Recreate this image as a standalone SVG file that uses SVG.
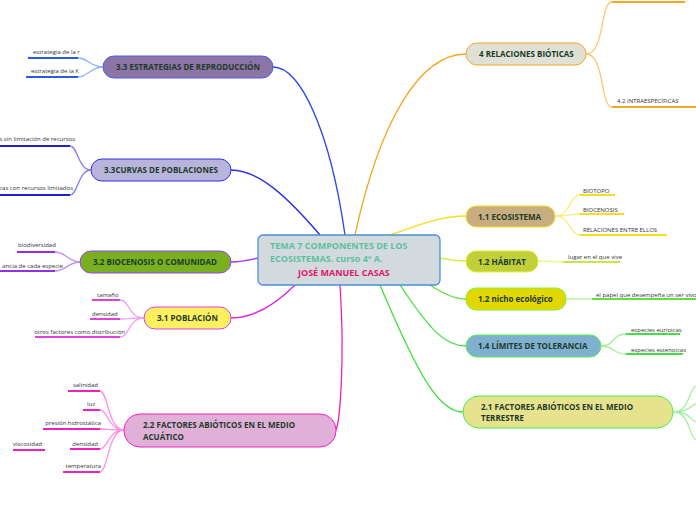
<svg xmlns="http://www.w3.org/2000/svg" width="696" height="520" viewBox="0 0 696 520">
<style>
text{font-family:"Open Sans","Noto Sans","Liberation Sans",sans-serif}
.n{font-size:8px;font-weight:bold;fill:#1e3a2a}
.l{font-size:6px;fill:#333}
.c{fill:none;stroke-width:1.3}
.u{fill:none;stroke-width:2}
</style>
<rect width="696" height="520" fill="#fff"/>
<g id="connectors">
<path class="c" stroke="#f5a623" d="M355 235 C380 120,420 54,466 54"/>
<path class="c" stroke="#f5e020" d="M390 235 C420 225,440 216,466 216"/>
<path class="c" stroke="#d8f040" d="M440 258 C450 260,455 261,466 261"/>
<path class="c" stroke="#60e040" d="M430 285 C445 295,455 299,466 299"/>
<path class="c" stroke="#40e040" d="M400 285 C430 330,445 346,466 346"/>
<path class="c" stroke="#40e040" d="M380 285 C420 380,440 412,463 412"/>
<path class="c" stroke="#2a4ae8" d="M345 235 C330 130,300 67,273 67"/>
<path class="c" stroke="#2a2ae8" d="M320 235 C290 200,260 170,231 170"/>
<path class="c" stroke="#a040f0" d="M258 258 C250 260,240 262,231 262"/>
<path class="c" stroke="#e020e0" d="M295 285 C270 310,250 318,231 318"/>
<path class="c" stroke="#f020c0" d="M340 285 C345 360,340 420,336 430"/>
<path class="c" stroke="#fcc870" d="M586 54 C605 54,600 2,612 2 M586 54 C605 54,600 107,612 107"/>
<path class="u" stroke="#f5a623" d="M612 2H685M612 107H696"/>
<path class="c" stroke="#f8ee80" d="M555 216C570 216,570 195,580 195M555 216C570 216,570 214,580 214M555 216C570 216,570 235,580 235"/>
<path class="u" stroke="#f5e020" d="M580 195H615M580 214H624M580 235H667"/>
<path class="c" stroke="#e8f890" d="M538 261C550 261,552 262,563 262"/>
<path class="u" stroke="#c8e840" d="M563 262H620"/>
<path class="c" stroke="#b0f090" d="M566 299H592"/>
<path class="u" stroke="#60e040" d="M592 299H696"/>
<path class="c" stroke="#a0f0a0" d="M601 346C615 346,612 334,626 334M601 346C615 346,612 354,626 354"/>
<path class="u" stroke="#40e040" d="M626 334H680M626 354H683"/>
<path class="c" stroke="#a0f0a0" d="M673 412C690 412,688 390,696 386M673 412C690 412,690 405,696 404M673 412C690 412,690 420,696 422M673 412C690 412,688 435,696 440"/>
<path class="c" stroke="#90b0ff" d="M103 67C90 67,88 58,78 58M103 67C90 67,88 77,78 77"/>
<path class="u" stroke="#2a5ae8" d="M28 58H78M26 77H78"/>
<path class="c" stroke="#8080f0" d="M91 170C78 170,78 146,70 146M91 170C78 170,78 195,70 195"/>
<path class="u" stroke="#2020d0" d="M0 146H70M0 195H70"/>
<path class="c" stroke="#c090f0" d="M80 262C68 262,66 252,55 252M80 262C68 262,66 271,55 271"/>
<path class="u" stroke="#9030e0" d="M17 252H55M0 271H55"/>
<path class="c" stroke="#f0a0f0" d="M144 318C128 318,130 300,120 300M144 318C128 318,130 319,120 319M144 318C128 318,130 337,120 337"/>
<path class="u" stroke="#e040e0" d="M92 300H120M90 319H120M35 337H120"/>
<path class="c" stroke="#ff90e0" d="M124 430C108 430,108 391,100 391M124 430C108 430,108 410,100 410M124 430C108 430,108 429,100 429M124 430C108 430,108 449,100 449M124 430C108 430,108 472,100 472"/>
<path class="u" stroke="#f020c0" d="M68 391H100M83 410H100M43 429H100M70 449H100M13 450H45M63 472H100"/>
</g>
<g id="center"><rect x="258" y="235" width="182" height="50" rx="5" fill="#d3dadd" stroke="#4a90d9" stroke-width="1.3"/>
<text x="270" y="249" font-size="9" font-weight="bold" fill="#5cc0a0">TEMA 7 COMPONENTES DE LOS</text>
<text x="270" y="262" font-size="9" font-weight="bold" fill="#5cc0a0">ECOSISTEMAS. curso 4º A.</text>
<text x="298" y="276" font-size="9" font-weight="bold" fill="#e0186c">JOSÉ MANUEL CASAS</text></g>
<g id="n4"><rect x="466" y="43" width="120" height="22" rx="11" fill="#e0e0d4" stroke="#f5a623"/><text class="n" x="479" y="57">4 RELACIONES BIÓTICAS</text><text class="l" x="617" y="103">4.2 INTRAESPECÍFICAS</text></g>
<g id="n11"><rect x="466" y="206" width="89" height="21" rx="10" fill="#c8ad80" stroke="#f5e020"/><text class="n" x="478" y="220">1.1 ECOSISTEMA</text>
<text class="l" x="583" y="193">BIOTOPO</text><text class="l" x="583" y="212">BIOCENOSIS</text><text class="l" x="583" y="232">RELACIONES ENTRE ELLOS</text></g>
<g id="n12"><rect x="466" y="251" width="72" height="21" rx="10" fill="#c0cf3a" stroke="#e0f030"/><text class="n" x="478" y="265">1.2 HÁBITAT</text><text class="l" x="568" y="259">lugar en el que vive</text></g>
<g id="n12b"><rect x="466" y="288" width="100" height="22" rx="10" fill="#e0d800" stroke="#80f040"/><text class="n" x="478" y="302">1.2 nicho ecológico</text><text class="l" x="596" y="297">el papel que desempeña un ser vivo</text></g>
<g id="n14"><rect x="466" y="335" width="135" height="22" rx="11" fill="#80b0d0" stroke="#50f050"/><text class="n" x="478" y="349">1.4 LÍMITES DE TOLERANCIA</text>
<text class="l" x="631" y="332">especies eurioicas</text><text class="l" x="631" y="352">especies estenoicas</text></g>
<g id="n21"><rect x="463" y="396" width="210" height="32" rx="16" fill="#e6e28e" stroke="#44ee44"/><text class="n" x="481" y="410">2.1 FACTORES ABIÓTICOS EN EL MEDIO</text><text class="n" x="481" y="421">TERRESTRE</text></g>
<g id="n33"><rect x="103" y="56" width="170" height="22" rx="11" fill="#8c74a6" stroke="#4a5ee8"/><text class="n" x="116" y="70">3.3 ESTRATEGIAS DE REPRODUCCIÓN</text>
<text class="l" x="33" y="54">estrategia de la r</text><text class="l" x="31" y="73">estrategia de la K</text></g>
<g id="n33c"><rect x="91" y="159" width="140" height="22" rx="11" fill="#b8b4dc" stroke="#3030e8"/><text class="n" x="104" y="173">3.3CURVAS DE POBLACIONES</text>
<text class="l" x="75" y="141" text-anchor="end">s sin limitación de recursos</text><text class="l" x="73" y="190" text-anchor="end">icas con recursos limitados</text></g>
<g id="n32"><rect x="80" y="251" width="151" height="22" rx="11" fill="#78b020" stroke="#a040f0"/><text class="n" x="93" y="265">3.2 BIOCENOSIS O COMUNIDAD</text>
<text class="l" x="18" y="247">biodiversidad</text><text class="l" x="63" y="268" text-anchor="end">ancia de cada especie</text></g>
<g id="n31"><rect x="144" y="307" width="87" height="22" rx="11" fill="#fff060" stroke="#e040e0"/><text class="n" x="157" y="321">3.1 POBLACIÓN</text>
<text class="l" x="97" y="297">tamaño</text><text class="l" x="92" y="316">densidad</text><text class="l" x="125" y="334" text-anchor="end">otros factores como distribución</text></g>
<g id="n22"><rect x="124" y="414" width="212" height="33" rx="16" fill="#e0b0d8" stroke="#f020c0"/><text class="n" x="143" y="428">2.2 FACTORES ABIÓTICOS EN EL MEDIO</text><text class="n" x="143" y="440">ACUÁTICO</text>
<text class="l" x="98" y="387" text-anchor="end">salinidad</text><text class="l" x="95" y="406" text-anchor="end">luz</text><text class="l" x="101" y="425" text-anchor="end">presión hidrostática</text><text class="l" x="98" y="446" text-anchor="end">densidad</text><text class="l" x="13" y="446">viscosidad</text><text class="l" x="101" y="468" text-anchor="end">temperatura</text></g>
</svg>
